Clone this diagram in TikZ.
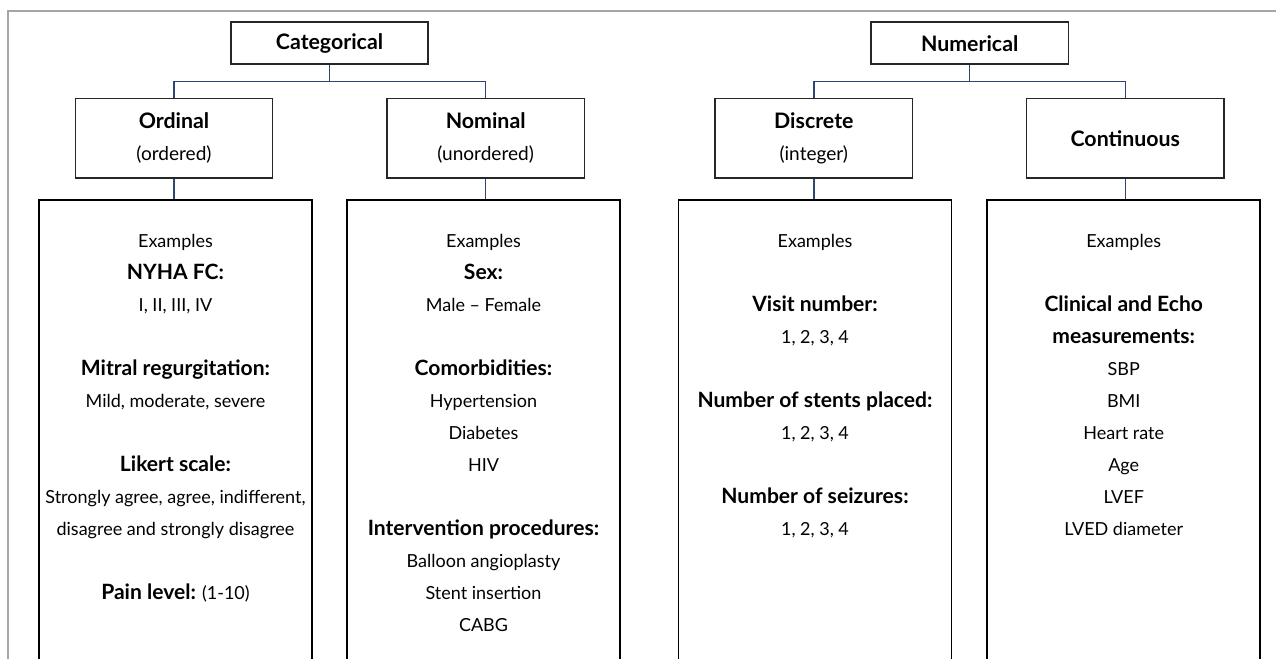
\documentclass[tikz,border=0pt]{standalone}
\usepackage{fontspec}
\setmainfont{Lato}
\usepackage{xcolor}
\usetikzlibrary{positioning}
\definecolor{framegray}{HTML}{A6A6A6}
\definecolor{linkblue}{HTML}{2C4770}
\definecolor{edgegray}{HTML}{262626}
\newcommand{\boxfont}{\fontsize{14.3}{24}\selectfont}
\newcommand{\listfont}{\fontsize{13.5}{24}\selectfont}
\newcommand{\boldlbl}[1]{{\fontsize{15.8}{24}\selectfont\bfseries #1}}
\newcommand{\headlbl}[1]{{\fontsize{16}{24}\selectfont\bfseries #1}}

\begin{document}
\begin{tikzpicture}[
      x=0.75pt, y=-0.75pt,
      topbox/.style={draw=edgegray, line width=1.2pt, minimum width=148pt, minimum height=31.5pt, inner sep=0pt, font=\boxfont},
      subbox/.style={draw=edgegray, line width=1.2pt, minimum width=148pt, minimum height=59.5pt, inner sep=0pt, align=center, font=\boxfont},
      listbox/.style={draw=black, line width=1.2pt, minimum width=204.75pt, minimum height=360pt, inner sep=0pt},
      lines/.style={anchor=north, align=center, inner sep=0pt, font=\listfont},
      link/.style={draw=linkblue, line width=1.1pt}
  ]
    \useasboundingbox (0,0) rectangle (1276,659);
    \clip (0,0) rectangle (1276,659);
    \draw[framegray, line width=1.8pt] (8,680) -- (8,11) -- (1290,11);

    \node[topbox] (cat) at (329.5,43.3) {\headlbl{Categorical}};
    \node[topbox] (num) at (969.7,43.3) {\headlbl{Numerical}};

    \node[subbox] (ord) at (174,138.3) {\headlbl{Ordinal}\\(ordered)};
    \node[subbox] (nom) at (485.7,138.3) {\headlbl{Nominal}\\(unordered)};
    \node[subbox] (dis) at (813.8,138.3) {\headlbl{Discrete}\\(integer)};
    \node[subbox] (con) at (1125.3,138.3) {\headlbl{Continuous}};

    \node[listbox] (ordlist) at (175.5,440) {};
    \node[listbox] (nomlist) at (483.5,440) {};
    \node[listbox] (dislist) at (815,440) {};
    \node[listbox] (conlist) at (1123.7,440) {};

    \draw[link] (cat.south) -- ++(0,16.4) -| (ord.north);
    \draw[link] (cat.south) ++(0,16.4) -| (nom.north);
    \draw[link] (num.south) -- ++(0,16.4) -| (dis.north);
    \draw[link] (num.south) ++(0,16.4) -| (con.north);
    \draw[link] (ord.south) -- (ord.south |- ordlist.north);
    \draw[link] (nom.south) -- (nom.south |- nomlist.north);
    \draw[link] (dis.south) -- (dis.south |- dislist.north);
    \draw[link] (con.south) -- (con.south |- conlist.north);

    \node[lines] (ordtext) at (175.5,233.7) {Examples\\
      \boldlbl{NYHA FC:}\\
      I, II, III, IV\\[24pt]
      \boldlbl{Mitral regurgitation:}\\
      Mild, moderate, severe\\[24pt]
      \boldlbl{Likert scale:}\\
      Strongly agree, agree, indifferent,\\
      disagree and strongly disagree\\[24pt]
      \boldlbl{Pain level:} (1-10)};
    \node[lines] (nomtext) at (483.5,233.7) {Examples\\
      \boldlbl{Sex:}\\
      Male -- Female\\[24pt]
      \boldlbl{Comorbidities:}\\
      Hypertension\\
      Diabetes\\
      HIV\\[24pt]
      \boldlbl{Intervention procedures:}\\
      Balloon angioplasty\\
      Stent insertion\\
      CABG};
    \node[lines] (distext) at (815,233.7) {Examples\\[24pt]
      \boldlbl{Visit number:}\\
      1, 2, 3, 4\\[24pt]
      \boldlbl{Number of stents placed:}\\
      1, 2, 3, 4\\[24pt]
      \boldlbl{Number of seizures:}\\
      1, 2, 3, 4};
    \node[lines] (context) at (1123.7,233.7) {Examples\\[24pt]
      \boldlbl{Clinical and Echo}\\
      \boldlbl{measurements:}\\
      SBP\\
      BMI\\
      Heart rate\\
      Age\\
      LVEF\\
      LVED diameter};
  \end{tikzpicture}
\end{document}
